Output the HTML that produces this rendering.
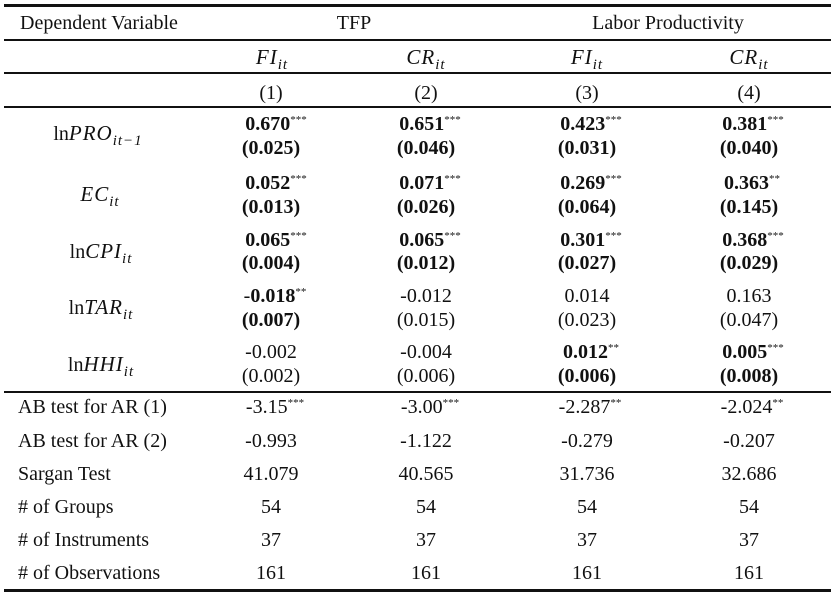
<!DOCTYPE html>
<html><head><meta charset="utf-8"><style>
body{margin:0;width:836px;height:596px;background:#fff;position:relative;overflow:hidden;font-family:"Liberation Serif","Times New Roman",serif;font-size:20px;color:#111}
.t{position:absolute;transform:translate(-50%,-50%);white-space:nowrap;line-height:1}
.l{position:absolute;transform:translateY(-50%);white-space:nowrap;line-height:1}
.h{position:absolute;left:4px;width:827px;background:#111}
b{font-weight:bold}
sup{font-size:11px;vertical-align:7px;font-weight:normal}
i sub{font-size:15px;vertical-align:-5px}
.m{font-style:italic;font-size:21px;font-family:"Liberation Serif","Times New Roman",serif;letter-spacing:1px}
</style></head><body>
<div class="h" style="top:4px;height:3px"></div>
<div class="h" style="top:39px;height:1.5px"></div>
<div class="h" style="top:72px;height:1.5px"></div>
<div class="h" style="top:106px;height:1.5px"></div>
<div class="h" style="top:391px;height:1.5px"></div>
<div class="h" style="top:589px;height:3px"></div>

<div class="l" style="left:20px;top:23px">Dependent Variable</div>
<div class="t" style="left:354px;top:23px">TFP</div>
<div class="t" style="left:668px;top:23px">Labor Productivity</div>

<div class="t" style="left:272px;top:60px"><i class="m">FI<sub>it</sub></i></div>
<div class="t" style="left:426px;top:60px"><i class="m">CR<sub>it</sub></i></div>
<div class="t" style="left:587px;top:60px"><i class="m">FI<sub>it</sub></i></div>
<div class="t" style="left:749px;top:60px"><i class="m">CR<sub>it</sub></i></div>

<div class="t" style="left:271px;top:93px">(1)</div>
<div class="t" style="left:426px;top:93px">(2)</div>
<div class="t" style="left:587px;top:93px">(3)</div>
<div class="t" style="left:749px;top:93px">(4)</div>

<div class="t" style="left:98px;top:136px">ln<i class="m">PRO<sub>it−1</sub></i></div>
<div class="t" style="left:100px;top:197px"><i class="m">EC<sub>it</sub></i></div>
<div class="t" style="left:101px;top:254px">ln<i class="m">CPI<sub>it</sub></i></div>
<div class="t" style="left:101px;top:310px">ln<i class="m">TAR<sub>it</sub></i></div>
<div class="t" style="left:101px;top:367px">ln<i class="m">HHI<sub>it</sub></i></div>

<div class="t" style="left:276px;top:124px"><b>0.670</b><sup>***</sup></div>
<div class="t" style="left:271px;top:148px"><b>(0.025)</b></div>
<div class="t" style="left:430px;top:124px"><b>0.651</b><sup>***</sup></div>
<div class="t" style="left:426px;top:148px"><b>(0.046)</b></div>
<div class="t" style="left:591px;top:124px"><b>0.423</b><sup>***</sup></div>
<div class="t" style="left:587px;top:148px"><b>(0.031)</b></div>
<div class="t" style="left:753px;top:124px"><b>0.381</b><sup>***</sup></div>
<div class="t" style="left:749px;top:148px"><b>(0.040)</b></div>

<div class="t" style="left:276px;top:183px"><b>0.052</b><sup>***</sup></div>
<div class="t" style="left:271px;top:207px"><b>(0.013)</b></div>
<div class="t" style="left:430px;top:183px"><b>0.071</b><sup>***</sup></div>
<div class="t" style="left:426px;top:207px"><b>(0.026)</b></div>
<div class="t" style="left:591px;top:183px"><b>0.269</b><sup>***</sup></div>
<div class="t" style="left:587px;top:207px"><b>(0.064)</b></div>
<div class="t" style="left:752px;top:183px"><b>0.363</b><sup>**</sup></div>
<div class="t" style="left:749px;top:207px"><b>(0.145)</b></div>

<div class="t" style="left:276px;top:240px"><b>0.065</b><sup>***</sup></div>
<div class="t" style="left:271px;top:263px"><b>(0.004)</b></div>
<div class="t" style="left:430px;top:240px"><b>0.065</b><sup>***</sup></div>
<div class="t" style="left:426px;top:263px"><b>(0.012)</b></div>
<div class="t" style="left:591px;top:240px"><b>0.301</b><sup>***</sup></div>
<div class="t" style="left:587px;top:263px"><b>(0.027)</b></div>
<div class="t" style="left:753px;top:240px"><b>0.368</b><sup>***</sup></div>
<div class="t" style="left:749px;top:263px"><b>(0.029)</b></div>

<div class="t" style="left:275px;top:296px">-<b>0.018</b><sup>**</sup></div>
<div class="t" style="left:271px;top:320px"><b>(0.007)</b></div>
<div class="t" style="left:426px;top:296px">-0.012</div>
<div class="t" style="left:426px;top:320px">(0.015)</div>
<div class="t" style="left:587px;top:296px">0.014</div>
<div class="t" style="left:587px;top:320px">(0.023)</div>
<div class="t" style="left:749px;top:296px">0.163</div>
<div class="t" style="left:749px;top:320px">(0.047)</div>

<div class="t" style="left:271px;top:352px">-0.002</div>
<div class="t" style="left:271px;top:376px">(0.002)</div>
<div class="t" style="left:426px;top:352px">-0.004</div>
<div class="t" style="left:426px;top:376px">(0.006)</div>
<div class="t" style="left:591px;top:352px"><b>0.012</b><sup>**</sup></div>
<div class="t" style="left:587px;top:376px"><b>(0.006)</b></div>
<div class="t" style="left:753px;top:352px"><b>0.005</b><sup>***</sup></div>
<div class="t" style="left:749px;top:376px"><b>(0.008)</b></div>

<div class="l" style="left:18px;top:407px">AB test for AR (1)</div>
<div class="t" style="left:275px;top:407px">-3.15<sup>***</sup></div>
<div class="t" style="left:430px;top:407px">-3.00<sup>***</sup></div>
<div class="t" style="left:590px;top:407px">-2.287<sup>**</sup></div>
<div class="t" style="left:752px;top:407px">-2.024<sup>**</sup></div>

<div class="l" style="left:18px;top:441px">AB test for AR (2)</div>
<div class="t" style="left:271px;top:441px">-0.993</div>
<div class="t" style="left:426px;top:441px">-1.122</div>
<div class="t" style="left:587px;top:441px">-0.279</div>
<div class="t" style="left:749px;top:441px">-0.207</div>

<div class="l" style="left:18px;top:474px">Sargan Test</div>
<div class="t" style="left:271px;top:474px">41.079</div>
<div class="t" style="left:426px;top:474px">40.565</div>
<div class="t" style="left:587px;top:474px">31.736</div>
<div class="t" style="left:749px;top:474px">32.686</div>

<div class="l" style="left:18px;top:507px"># of Groups</div>
<div class="t" style="left:271px;top:507px">54</div>
<div class="t" style="left:426px;top:507px">54</div>
<div class="t" style="left:587px;top:507px">54</div>
<div class="t" style="left:749px;top:507px">54</div>

<div class="l" style="left:18px;top:540px"># of Instruments</div>
<div class="t" style="left:271px;top:540px">37</div>
<div class="t" style="left:426px;top:540px">37</div>
<div class="t" style="left:587px;top:540px">37</div>
<div class="t" style="left:749px;top:540px">37</div>

<div class="l" style="left:18px;top:573px"># of Observations</div>
<div class="t" style="left:271px;top:573px">161</div>
<div class="t" style="left:426px;top:573px">161</div>
<div class="t" style="left:587px;top:573px">161</div>
<div class="t" style="left:749px;top:573px">161</div>
</body></html>
